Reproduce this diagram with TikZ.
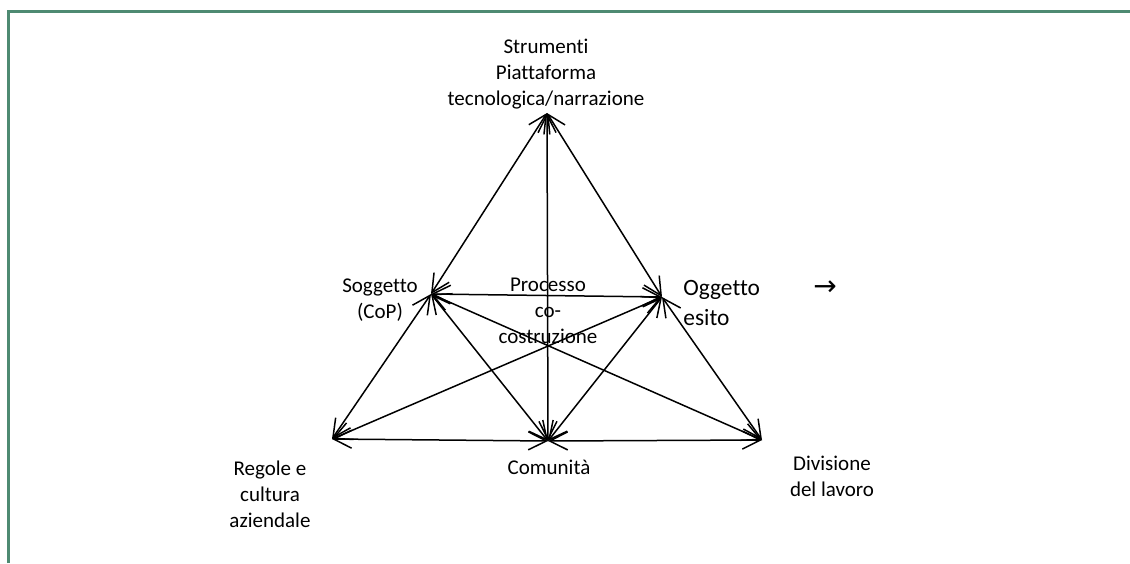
\documentclass[tikz,border=0pt]{standalone}
\usepackage{fontspec}
\setmainfont{Carlito}[Ligatures=NoCommon]
\newfontfamily\arrowfont{DejaVu Sans}
\usepackage{tikz}
\usetikzlibrary{arrows.meta}
\definecolor{framecolorc}{HTML}{4E8A72}
\colorlet{framecolor}{framecolorc}
\tikzstyle{frameline} =[
    draw=framecolor,
    line width=1.5pt
    ]
\tikzstyle{linkarrow} =[
    draw=black,
    line width=0.75pt,
    {Straight Barb[length=9pt,width=9pt]}-{Straight Barb[length=9pt,width=9pt]}
    ]
\tikzstyle{lbl} =[
    inner sep=0pt,
    align=center,
    anchor=base,
    font=\fontsize{10.5}{13}\selectfont
    ]
\tikzstyle{biglbl} =[
    inner sep=0pt,
    align=left,
    anchor=base west,
    font=\fontsize{11.7}{15}\selectfont
    ]

\begin{document}
\begin{tikzpicture}[x=0.5pt,y=-0.5pt]
\useasboundingbox (0,0) rectangle (1130,563);
\draw[frameline] (8,563) -- (8,11) -- (1130,11);

% corners of the triangles
\coordinate (strum) at (547,113);
\coordinate (sogg) at (431,294);
\coordinate (ogg) at (662,297);
\coordinate (reg) at (332,439);
\coordinate (com) at (548,441);
\coordinate (div) at (762,440);

% labels (base = last line)
\node[lbl] (strumlbl) at (546,105) {Strumenti\\Piattaforma\\tecnologica/narrazione};
\node[lbl] (sogglbl) at (380,318) {Soggetto\\(CoP)};
\node[lbl] (proclbl) at (548,343) {Processo\\co-\\costruzione};
\node[biglbl] (ogglbl) at (683,325) {Oggetto\\esito};
\node[lbl, font=\arrowfont\fontsize{14}{15}\selectfont] (freccia) at (825,295) {→};
\node[lbl] (reglbl) at (270,527) {Regole e\\cultura\\aziendale};
\node[lbl] (comlbl) at (549,474) {Comunità};
\node[lbl] (divlbl) at (832,496) {Divisione\\del lavoro};

\draw[linkarrow] (strum) -- (sogg);
\draw[linkarrow] (strum) -- (ogg);
\draw[linkarrow] (strum) -- (com);
\draw[linkarrow] (sogg) -- (ogg);
\draw[linkarrow] (sogg) -- (reg);
\draw[linkarrow] (sogg) -- (com);
\draw[linkarrow] (sogg) -- (div);
\draw[linkarrow] (ogg) -- (reg);
\draw[linkarrow] (ogg) -- (com);
\draw[linkarrow] (ogg) -- (div);
\draw[linkarrow] (reg) -- (com);
\draw[linkarrow] (com) -- (div);
\end{tikzpicture}
\end{document}
